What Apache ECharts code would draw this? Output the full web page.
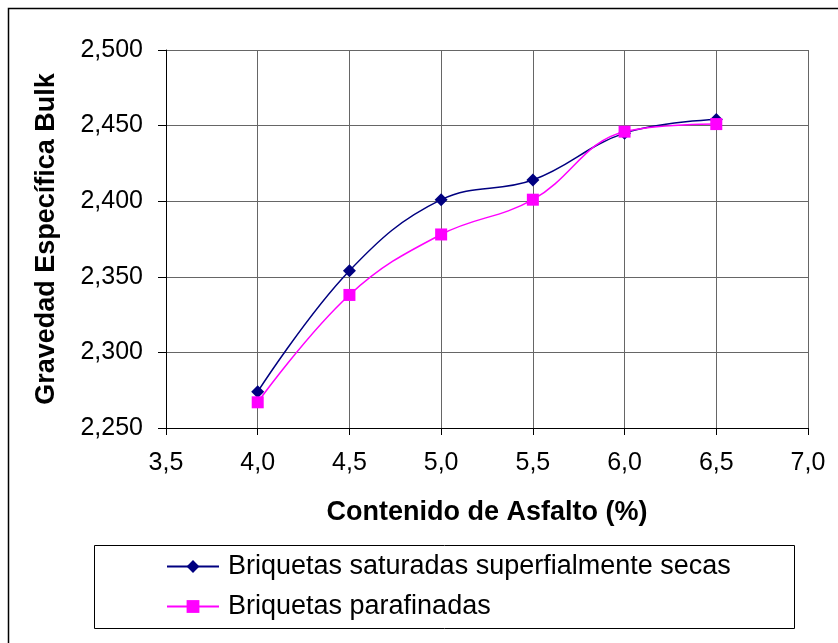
<!DOCTYPE html>
<html>
<head>
<meta charset="utf-8">
<script src="https://cdn.jsdelivr.net/npm/echarts@6/dist/echarts.min.js"></script>
<style>
html,body{margin:0;padding:0;background:#fff;}
#chart{width:838px;height:643px;}
</style>
</head>
<body>
<div id="chart"></div>
<script>
// Asphalt content (%) and bulk specific gravity measurements
const asphaltContent = [4.0, 4.5, 5.0, 5.5, 6.0, 6.5];
const saturatedDry = [2.274, 2.354, 2.401, 2.414, 2.445, 2.454];
const paraffined = [2.267, 2.338, 2.378, 2.401, 2.446, 2.451];
const seriesNames = ['Briquetas saturadas superfialmente secas', 'Briquetas parafinadas'];
const xTitle = 'Contenido de Asfalto (%)';
const yTitle = 'Gravedad Específica Bulk';

const font = '"Liberation Sans", Arial, sans-serif';
const pairs = (xs, ys) => xs.map((x, i) => [x, ys[i]]);
const comma = (v, d) => v.toFixed(d).replace('.', ',');

const chart = echarts.init(document.getElementById('chart'));
chart.setOption({
  backgroundColor: '#fff',
  animation: false,
  textStyle: { fontFamily: font },
  grid: { left: 166, right: 30, top: 50, bottom: 215, show: false },
  xAxis: {
    type: 'value', min: 3.5, max: 7.0, interval: 0.5,
    name: xTitle, nameLocation: 'middle', nameGap: 71,
    nameTextStyle: { fontFamily: font, fontSize: 27, fontWeight: 'bold', color: '#000' },
    axisLine: { show: true, lineStyle: { color: '#000', width: 1 } },
    axisTick: { show: true, length: 7, lineStyle: { color: '#000' } },
    axisLabel: { fontFamily: font, fontSize: 25, color: '#000', margin: 23, formatter: v => comma(v, 1) },
    splitLine: { show: true, lineStyle: { color: '#666', width: 1 } }
  },
  yAxis: {
    type: 'value', min: 2.25, max: 2.5, interval: 0.05,
    name: yTitle, nameLocation: 'middle', nameGap: 106,
    nameTextStyle: { fontFamily: font, fontSize: 27, fontWeight: 'bold', color: '#000' },
    axisLine: { show: true, lineStyle: { color: '#000', width: 1 } },
    axisTick: { show: true, length: 8, lineStyle: { color: '#000' } },
    axisLabel: { fontFamily: font, fontSize: 25, color: '#000', margin: 23, formatter: v => comma(v, 3) },
    splitLine: { show: true, lineStyle: { color: '#666', width: 1 } }
  },
  legend: {
    orient: 'vertical', left: 166, top: 553, itemGap: 13, padding: 0,
    itemWidth: 52, itemHeight: 16,
    textStyle: { fontFamily: font, fontSize: 27, lineHeight: 27, color: '#000', padding: [0, 0, 0, 4] },
    data: seriesNames
  },
  graphic: [
    { type: 'rect', shape: { x: 8.5, y: 8.5, width: 840, height: 650 }, style: { fill: 'none', stroke: '#000', lineWidth: 1.5 }, silent: true, z: -1 },
    { type: 'rect', shape: { x: 94.5, y: 545.5, width: 700, height: 83 }, style: { fill: 'none', stroke: '#000', lineWidth: 1 }, silent: true }
  ],
  series: [
    {
      name: seriesNames[0], type: 'line', smooth: 0.4,
      data: pairs(asphaltContent, saturatedDry),
      symbol: 'diamond', symbolSize: 13,
      itemStyle: { color: '#000080' },
      lineStyle: { color: '#000080', width: 1.5 },
      z: 3
    },
    {
      name: seriesNames[1], type: 'line', smooth: 0.4,
      data: pairs(asphaltContent, paraffined),
      symbol: 'rect', symbolSize: 12,
      itemStyle: { color: '#FF00FF' },
      lineStyle: { color: '#FF00FF', width: 1.5 },
      z: 4
    }
  ]
});
</script>
</body>
</html>
